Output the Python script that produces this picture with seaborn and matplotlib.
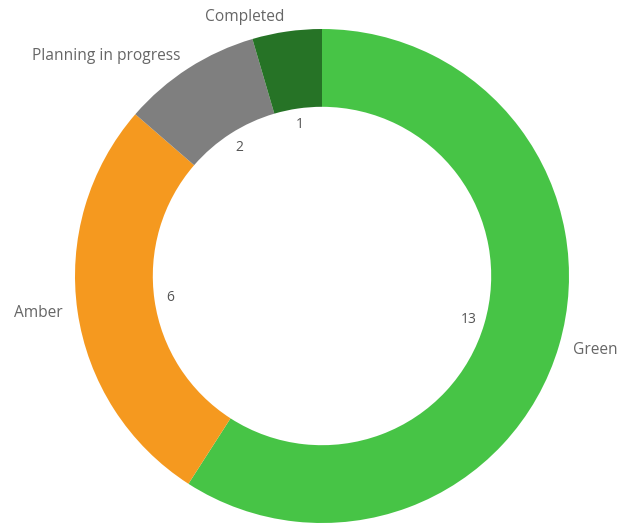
import matplotlib
matplotlib.use("Agg")
import matplotlib.pyplot as plt
import seaborn as sns

categories = ["Green", "Amber", "Planning in progress", "Completed"]
values = [13, 6, 2, 1]
colors = ["#47C446", "#F5991F", "#7F7F7F", "#267326"]

sns.set_theme(style="white")
plt.rcParams['font.family'] = ['Open Sans', 'DejaVu Sans']

fig = plt.figure(figsize=(6.17, 5.24), dpi=100)
ax = fig.add_axes([75/617, 1/524, 494/617, 494/524])

total = sum(values)
wedges, texts, autotexts = ax.pie(
    values, labels=categories, colors=colors, startangle=90, counterclock=False,
    radius=1.0, labeldistance=1.06, pctdistance=0.62,
    autopct=lambda p: f"{round(p * total / 100)}",
    wedgeprops=dict(width=0.315, linewidth=0),
    textprops=dict(fontsize=11.2, color="#666666"),
)
for t in autotexts:
    t.set_color("#555555")
    t.set_fontsize(10)
ax.set_xlim(-1, 1)
ax.set_ylim(-1, 1)
ax.set_aspect("equal")
ax.axis("off")
fig.savefig("out.png", dpi=100)
